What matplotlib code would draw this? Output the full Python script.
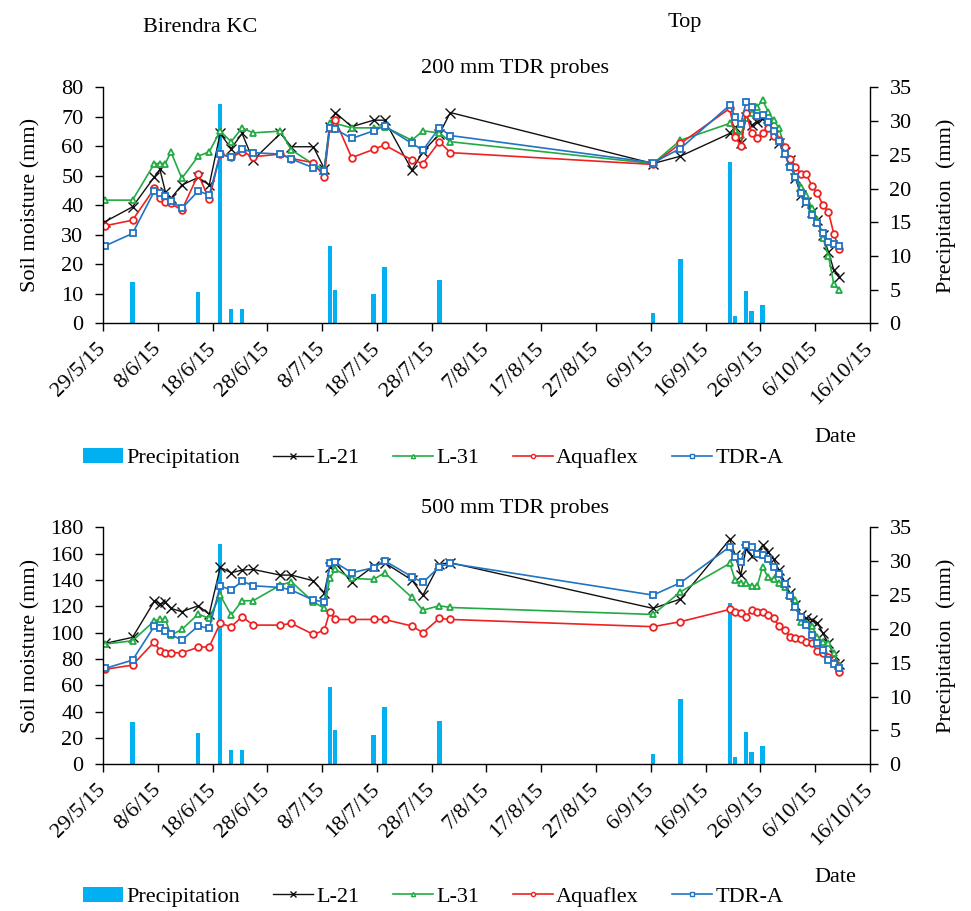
import numpy as np
import matplotlib
matplotlib.use('Agg')
import matplotlib.pyplot as plt
from matplotlib.patches import Patch
from matplotlib.lines import Line2D

plt.rcParams['font.family'] = ['Liberation Serif', 'DejaVu Serif']

# ---- data (x = days since 29/5/15) ----
date_labels = ['29/5/15', '8/6/15', '18/6/15', '28/6/15', '8/7/15', '18/7/15', '28/7/15',
               '7/8/15', '17/8/15', '27/8/15', '6/9/15', '16/9/15', '26/9/15', '6/10/15', '16/10/15']
tick_days = [0, 10, 20, 30, 40, 50, 60, 70, 80, 90, 100, 110, 120, 130, 140]

meas_days = [0, 5, 9, 10, 11, 12, 14, 17, 19, 21, 23, 25, 27, 32, 34, 38, 40, 41, 42, 45, 49, 51,
             56, 58, 61, 63, 100, 105,
             114, 115, 116, 117, 118, 119, 120, 121, 122, 123, 124, 125, 126, 127, 128, 129,
             130, 131, 132, 133, 134]

precip_days = [5, 17, 21, 23, 25, 41, 42, 49, 51, 61, 100, 105, 114, 115, 117, 118, 120]
precip_mm = [6.2, 4.6, 32.6, 2.1, 2.1, 11.5, 5.0, 4.3, 8.4, 6.4, 1.6, 9.6, 23.9, 1.1, 4.8, 1.8, 2.7]

# 200 mm probes
l21_200 = [34.5, 39.5, 49.7, 52.2, 44.6, 42.4, 46.9, 49.5, 46.9, 64.4, 59.3, 64.4, 55.4, 64.4, 59.9,
           59.9, 52.5, 66.7, 71.5, 66.7, 68.9, 68.9, 52.0, 58.2, 64.2, 71.5,
           54.2, 56.7,
           64.4, 66.7, 61.0, 70.0, 67.2, 68.4, 69.5, 66.7, 63.8, 61.0, 58.2, 55.4, 49.2, 43.5,
           41.2, 37.9, 35.0, 29.9, 24.3, 18.1, 15.8]
l31_200 = [41.8, 41.8, 54.2, 54.2, 54.2, 58.2, 49.2, 56.7, 58.2, 65.2, 61.6, 66.3, 64.6, 65.2, 58.8,
           54.0, 52.2, 68.0, 67.8, 66.3, 66.3, 66.7, 62.1, 65.3, 64.6, 61.6,
           54.2, 62.1,
           67.8, 65.5, 63.8, 69.5, 71.2, 73.4, 75.7, 71.8, 68.9, 66.1, 59.9, 54.8, 49.7, 46.3,
           43.5, 39.0, 35.0, 29.0, 23.0, 13.3, 11.3]
aqua_200 = [33.1, 35.0, 45.8, 42.4, 41.2, 40.7, 38.4, 50.5, 42.1, 57.4, 56.3, 58.2, 56.5, 57.4, 55.9,
            54.5, 49.7, 66.3, 68.9, 56.2, 59.0, 60.5, 55.4, 54.2, 61.6, 57.9,
            53.9, 61.0,
            72.9, 63.3, 60.2, 71.2, 64.7, 62.9, 64.6, 66.3, 63.5, 62.1, 59.9, 55.7, 53.1, 50.8,
            50.5, 46.6, 44.1, 40.1, 37.9, 30.3, 25.2]
tdra_200 = [26.3, 30.5, 44.9, 44.3, 43.2, 41.6, 39.0, 44.9, 43.5, 57.4, 56.3, 59.3, 57.9, 57.4, 55.7,
            52.8, 51.8, 66.3, 65.9, 62.7, 65.3, 66.9, 61.0, 58.8, 66.3, 63.7,
            54.5, 59.3,
            74.0, 70.0, 67.5, 75.1, 73.4, 70.4, 70.8, 68.4, 65.2, 61.8, 57.4, 53.1, 49.7, 44.1,
            41.2, 36.7, 34.1, 30.7, 27.7, 26.9, 26.3]

# 500 mm probes
l21_500 = [91.9, 96.5, 124.0, 122.0, 123.0, 118.5, 116.0, 120.5, 114.0, 149.6, 145.6, 147.6, 148.1,
           143.8, 143.8, 139.5, 130.4, 150.1, 153.2, 138.2, 150.6, 153.2, 140.0, 128.6, 152.2, 153.2,
           118.5, 125.6,
           170.9, 159.0, 143.8, 164.0, 158.2, 160.3, 166.6, 161.5, 155.7, 147.6, 138.7, 129.9,
           121.0, 113.4, 110.9, 109.6, 107.6, 99.5, 91.9, 83.0, 76.2]
l31_500 = [91.4, 93.9, 109.1, 110.1, 110.1, 98.2, 102.5, 114.2, 110.9, 128.6, 113.4, 124.3, 124.3,
           136.2, 138.7, 123.5, 118.5, 141.3, 148.1, 141.3, 140.5, 145.6, 126.8, 117.2, 120.5, 119.2,
           113.9, 131.1,
           152.7, 140.0, 137.5, 137.5, 135.4, 135.4, 150.1, 142.0, 140.5, 137.5, 134.9, 127.8,
           124.8, 108.4, 107.1, 105.1, 97.0, 93.2, 91.9, 84.3, 75.4]
aqua_500 = [72.2, 75.4, 93.2, 86.1, 84.8, 84.8, 84.8, 88.9, 89.4, 107.1, 104.6, 112.2, 105.8,
            105.8, 107.1, 98.7, 102.0, 116.0, 110.1, 110.1, 110.1, 110.1, 105.1, 100.0, 110.9, 110.1,
            104.6, 108.4,
            117.7, 116.0, 114.7, 112.2, 117.2, 116.0, 116.0, 113.4, 110.9, 105.1, 102.0, 97.0,
            95.7, 94.9, 93.2, 91.9, 86.3, 84.8, 81.8, 77.2, 70.4]
tdra_500 = [72.9, 79.2, 105.1, 103.3, 101.3, 98.7, 94.4, 105.1, 103.3, 135.7, 132.4, 139.2, 135.7,
            134.4, 132.4, 124.8, 123.5, 152.7, 153.4, 145.6, 149.4, 154.7, 142.5, 138.2, 150.1, 152.7,
            128.6, 138.0,
            165.3, 157.7, 153.4, 166.6, 164.8, 159.5, 159.0, 155.7, 150.1, 144.3, 136.7, 127.8,
            119.2, 112.2, 105.8, 98.2, 92.4, 86.8, 79.2, 76.2, 73.4]

series_names = ['L-21', 'L-31', 'Aquaflex', 'TDR-A']
series_colors = ['#111111', '#22AA44', '#EE2222', '#1F74C4']
series_markers = ['x', '^', 'o', 's']
bar_color = '#00B0F0'

FS = 16
OFF = 0.4

fig = plt.figure(figsize=(9.71, 9.11), dpi=100)


def panel(rect, data, ymax, ystep, title, title_y, legend_y, date_y):
    ax = fig.add_axes(rect)
    axr = ax.twinx()
    axr.bar(np.array(precip_days) + OFF, precip_mm, width=0.8, color=bar_color, zorder=1)
    axr.set_ylim(0, 35)
    axr.set_yticks(np.arange(0, 36, 5))
    ax.set_zorder(axr.get_zorder() + 1)
    ax.patch.set_visible(False)
    x = np.array(meas_days) + OFF
    for vals, c, m in zip(data, series_colors, series_markers):
        if m == 'x':
            ax.plot(x, vals, color=c, lw=1.0, marker=m, ms=6.5, mew=1.0)
        else:
            ax.plot(x, vals, color=c, lw=1.2, marker=m, ms=4.8, mew=1.3, mfc='white')
    ax.set_xlim(0, 140)
    ax.set_ylim(0, ymax)
    ax.set_yticks(np.arange(0, ymax + 1, ystep))
    ax.set_xticks(tick_days)
    ax.set_xticklabels(date_labels, rotation=45, ha='right', va='center', rotation_mode='anchor')
    for a in (ax, axr):
        a.spines['top'].set_visible(False)
        for s in a.spines.values():
            s.set_linewidth(1.0)
        a.tick_params(direction='out', length=6, width=1, labelsize=FS, pad=8)
    ax.spines['right'].set_visible(False)
    axr.spines['left'].set_visible(False)
    axr.spines['bottom'].set_visible(False)
    ax.tick_params(axis='x', pad=10)
    ax.set_ylabel('Soil moisture (mm)', fontsize=FS)
    ax.yaxis.set_label_coords(-0.082, 0.5)
    axr.set_ylabel('Precipitation  (mm)', fontsize=FS)
    axr.yaxis.set_label_coords(1.087, 0.5)
    fig.text(515 / 971, 1 - title_y / 911, title, ha='center', va='center', fontsize=FS)
    fig.text(835 / 971, 1 - date_y / 911, 'Date', ha='center', va='center', fontsize=FS)
    handles = [Patch(facecolor=bar_color, edgecolor='none')]
    for c, m in zip(series_colors, series_markers):
        if m == 'x':
            handles.append(Line2D([], [], color=c, lw=1.0, marker=m, ms=5, mew=1.0))
        else:
            handles.append(Line2D([], [], color=c, lw=1.2, marker=m, ms=3, mew=1.0, mfc='white'))
    fig.legend(handles, ['Precipitation'] + series_names, loc='center',
               bbox_to_anchor=(433 / 971, 1 - legend_y / 911), ncol=5, frameon=False,
               fontsize=FS, handlelength=1.8, handletextpad=0.15, columnspacing=1.5,
               handleheight=0.7)
    return ax


panel([0.106, 0.645, 0.790, 0.259], [l21_200, l31_200, aqua_200, tdra_200], 80, 10,
      '200 mm TDR probes', 69, 458, 437)
panel([0.106, 0.161, 0.790, 0.260], [l21_500, l31_500, aqua_500, tdra_500], 180, 20,
      '500 mm TDR probes', 508, 897, 877)

fig.text(200 / 971, 1 - 28 / 911, 'Birendra KC', ha='center', va='center', fontsize=FS)
fig.text(685 / 971, 1 - 23 / 911, 'Top', ha='center', va='center', fontsize=FS)

fig.savefig('out.png', dpi=100)
